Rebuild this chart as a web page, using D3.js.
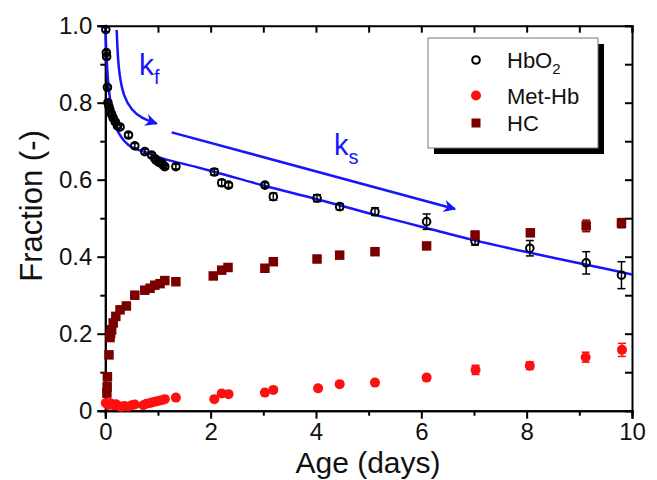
<!DOCTYPE html>
<html>
<head>
<meta charset="utf-8">
<script src="https://cdn.jsdelivr.net/npm/d3@7"></script>
<style>
  body { margin: 0; background: #fff; }
  text { font-family: "Liberation Sans", Arial, sans-serif; }
</style>
</head>
<body>
<script>
const width = 657;
const height = 480;

// HbO2 (open circles)
const hbo2Age = [0.01, 0.02, 0.025, 0.04, 0.05, 0.07, 0.09, 0.12, 0.15, 0.19, 0.23, 0.28, 0.44, 0.56, 0.75, 0.88, 0.94, 0.97, 1.02, 1.07, 1.1, 1.13, 1.34, 2.07, 2.21, 2.34, 3.03, 3.19, 4.02, 4.45, 5.12, 6.1, 7.02, 8.06, 9.13, 9.8];
const hbo2Val = [0.99, 0.93, 0.92, 0.84, 0.80, 0.79, 0.78, 0.77, 0.76, 0.75, 0.74, 0.737, 0.716, 0.688, 0.673, 0.664, 0.655, 0.65, 0.645, 0.643, 0.638, 0.634, 0.634, 0.62, 0.592, 0.586, 0.586, 0.556, 0.552, 0.53, 0.517, 0.491, 0.44, 0.422, 0.384, 0.352];
const hbo2Err = [0.005, 0.005, 0.005, 0.005, 0.005, 0.005, 0.005, 0.005, 0.005, 0.005, 0.005, 0.005, 0.006, 0.006, 0.006, 0.006, 0.006, 0.006, 0.006, 0.006, 0.006, 0.006, 0.006, 0.008, 0.008, 0.006, 0.006, 0.009, 0.009, 0.008, 0.01, 0.02, 0.01, 0.02, 0.029, 0.035];

// Met-Hb (red filled circles)
const metAge = [0.01, 0.03, 0.06, 0.09, 0.12, 0.16, 0.2, 0.25, 0.3, 0.36, 0.44, 0.5, 0.56, 0.72, 0.78, 0.85, 0.9, 0.96, 1.02, 1.07, 1.13, 1.34, 2.07, 2.21, 2.34, 3.03, 3.19, 4.04, 4.45, 5.12, 6.1, 7.03, 8.06, 9.12, 9.81];
const metVal = [0.02, 0.018, 0.015, 0.02, 0.016, 0.014, 0.017, 0.012, 0.01, 0.012, 0.011, 0.014, 0.016, 0.014, 0.018, 0.02, 0.022, 0.024, 0.026, 0.027, 0.03, 0.034, 0.03, 0.045, 0.043, 0.047, 0.054, 0.058, 0.069, 0.073, 0.086, 0.106, 0.117, 0.139, 0.158];
const metErr = [0.004, 0.004, 0.004, 0.004, 0.004, 0.004, 0.004, 0.004, 0.004, 0.004, 0.004, 0.004, 0.004, 0.004, 0.004, 0.004, 0.004, 0.004, 0.004, 0.004, 0.004, 0.004, 0.004, 0.004, 0.004, 0.005, 0.005, 0.005, 0.005, 0.006, 0.007, 0.012, 0.01, 0.013, 0.017];

// HC (dark red squares)
const hcAge = [0.03, 0.035, 0.04, 0.07, 0.09, 0.1, 0.12, 0.15, 0.2, 0.28, 0.4, 0.56, 0.75, 0.85, 0.94, 1.04, 1.13, 1.34, 2.05, 2.21, 2.33, 3.03, 3.19, 4.02, 4.45, 5.12, 6.1, 7.02, 8.07, 9.13, 9.8];
const hcVal = [0.046, 0.062, 0.088, 0.145, 0.19, 0.2, 0.21, 0.228, 0.245, 0.262, 0.272, 0.30, 0.313, 0.318, 0.326, 0.33, 0.338, 0.335, 0.35, 0.365, 0.372, 0.37, 0.387, 0.394, 0.404, 0.413, 0.428, 0.456, 0.462, 0.48, 0.487];
const hcErr = [0.01, 0.01, 0.01, 0.005, 0.005, 0.005, 0.005, 0.005, 0.005, 0.005, 0.005, 0.005, 0.005, 0.005, 0.005, 0.005, 0.005, 0.005, 0.005, 0.005, 0.005, 0.005, 0.005, 0.006, 0.006, 0.006, 0.007, 0.01, 0.008, 0.015, 0.012];

// fitted curve
const fitAge = [0, 0.02, 0.05, 0.1, 0.18, 0.28, 0.44, 0.75, 1.07, 1.7, 2.08, 3, 4, 5, 6, 7, 8, 9, 10];
const fitVal = [1.0, 0.93, 0.86, 0.80, 0.745, 0.716, 0.69, 0.672, 0.656, 0.634, 0.62, 0.585, 0.55, 0.513, 0.478, 0.443, 0.412, 0.383, 0.354];

// annotation arrows (data units)
const kfAge = [0.216, 0.247, 0.342, 0.50, 0.69, 0.975];
const kfVal = [0.989, 0.885, 0.816, 0.781, 0.759, 0.746];
const ksAge = [1.26, 6.64];
const ksVal = [0.723, 0.524];

const xTicks = [0, 2, 4, 6, 8, 10];
const yTicks = [0, 0.2, 0.4, 0.6, 0.8, 1.0];

const x = d3.scaleLinear().domain([0, 10]).range([105.3, 632]);
const y = d3.scaleLinear().domain([0, 1]).range([410.7, 25.7]);

const svg = d3.select("body")
	.append("svg")
	.attr("width", width)
	.attr("height", height);

svg.append("defs").append("marker")
	.attr("id", "head")
	.attr("viewBox", "0 0 10 10")
	.attr("refX", 9)
	.attr("refY", 5)
	.attr("markerWidth", 7)
	.attr("markerHeight", 5)
	.attr("markerUnits", "strokeWidth")
	.attr("orient", "auto")
	.append("path")
	.attr("d", "M0,0 L10,5 L0,10 L3,5 Z")
	.attr("fill", "#1515ff");

// axes
const minorX = d3.range(1, 10, 2);
const minorY = d3.range(0.1, 1, 0.2);

function axisStyle(g) {
	g.select(".domain").attr("stroke", "#000").attr("stroke-width", 2);
	g.selectAll(".tick line").attr("stroke", "#000").attr("stroke-width", 2);
	g.selectAll("text").attr("font-size", 24).attr("fill", "#111");
}
function noText(g) {
	g.selectAll("text").remove();
}

svg.append("g")
	.attr("transform", `translate(0,${y(0)})`)
	.call(d3.axisBottom(x).tickValues(xTicks).tickFormat(d3.format("d")).tickSize(8).tickPadding(4))
	.call(axisStyle);
svg.append("g")
	.attr("transform", `translate(0,${y(0)})`)
	.call(d3.axisBottom(x).tickValues(minorX).tickSize(5))
	.call(axisStyle).call(noText);

svg.append("g")
	.attr("transform", `translate(${x(0)},0)`)
	.call(d3.axisLeft(y).tickValues(yTicks).tickFormat(d => d === 0 ? "0" : d3.format(".1f")(d)).tickSize(8).tickPadding(5))
	.call(axisStyle);
svg.append("g")
	.attr("transform", `translate(${x(0)},0)`)
	.call(d3.axisLeft(y).tickValues(minorY).tickSize(5))
	.call(axisStyle).call(noText);

svg.append("g")
	.attr("transform", `translate(0,${y(1)})`)
	.call(d3.axisTop(x).tickValues(d3.range(0, 11, 1)).tickSize(-7))
	.call(axisStyle).call(noText);
svg.append("g")
	.attr("transform", `translate(${x(10)},0)`)
	.call(d3.axisRight(y).tickValues(d3.range(0, 1.01, 0.1)).tickSize(-7))
	.call(axisStyle).call(noText);

// axis titles
svg.append("text")
	.attr("x", 368)
	.attr("y", 473)
	.attr("text-anchor", "middle")
	.attr("font-size", 30)
	.attr("fill", "#111")
	.text("Age (days)");

svg.append("text")
	.attr("transform", "translate(42,206) rotate(-90)")
	.attr("text-anchor", "middle")
	.attr("font-size", 31)
	.attr("fill", "#111")
	.text("Fraction (-)");

// fit curve
const line = d3.line()
	.x(i => x(fitAge[i]))
	.y(i => y(fitVal[i]))
	.curve(d3.curveMonotoneX);
svg.append("path")
	.attr("d", line(d3.range(fitAge.length)))
	.attr("fill", "none")
	.attr("stroke", "#1515ff")
	.attr("stroke-width", 2.5);

// error bars
function errorBars(ages, vals, errs, color) {
	const g = svg.append("g").attr("stroke", color).attr("stroke-width", 1.5);
	ages.forEach((a, i) => {
		const cx = x(a), y1 = y(vals[i] + errs[i]), y2 = y(vals[i] - errs[i]);
		g.append("line").attr("x1", cx).attr("x2", cx).attr("y1", y1).attr("y2", y2);
		g.append("line").attr("x1", cx - 4).attr("x2", cx + 4).attr("y1", y1).attr("y2", y1);
		g.append("line").attr("x1", cx - 4).attr("x2", cx + 4).attr("y1", y2).attr("y2", y2);
	});
}

errorBars(hbo2Age, hbo2Val, hbo2Err, "#000");
svg.append("g").selectAll("circle")
	.data(d3.range(hbo2Age.length))
	.enter().append("circle")
	.attr("cx", i => x(hbo2Age[i]))
	.attr("cy", i => y(hbo2Val[i]))
	.attr("r", 3.8)
	.attr("fill", "none")
	.attr("stroke", "#000")
	.attr("stroke-width", 2);

errorBars(metAge, metVal, metErr, "#ff1010");
svg.append("g").selectAll("circle")
	.data(d3.range(metAge.length))
	.enter().append("circle")
	.attr("cx", i => x(metAge[i]))
	.attr("cy", i => y(metVal[i]))
	.attr("r", 5)
	.attr("fill", "#ff1010");

errorBars(hcAge, hcVal, hcErr, "#7a0000");
svg.append("g").selectAll("rect")
	.data(d3.range(hcAge.length))
	.enter().append("rect")
	.attr("x", i => x(hcAge[i]) - 4.75)
	.attr("y", i => y(hcVal[i]) - 4.75)
	.attr("width", 9.5)
	.attr("height", 9.5)
	.attr("fill", "#7a0000");

// annotation arrows
const arrowLine = d3.line().curve(d3.curveBasis);
svg.append("path")
	.attr("d", arrowLine(kfAge.map((a, i) => [x(a), y(kfVal[i])])))
	.attr("fill", "none")
	.attr("stroke", "#1515ff")
	.attr("stroke-width", 2.5)
	.attr("marker-end", "url(#head)");
svg.append("path")
	.attr("d", d3.line()(ksAge.map((a, i) => [x(a), y(ksVal[i])])))
	.attr("fill", "none")
	.attr("stroke", "#1515ff")
	.attr("stroke-width", 2.5)
	.attr("marker-end", "url(#head)");

const kf = svg.append("text").attr("x", 139).attr("y", 75).attr("font-size", 30).attr("fill", "#1515ff");
kf.append("tspan").text("k");
kf.append("tspan").attr("font-size", 20).attr("dy", 9).text("f");
const ks = svg.append("text").attr("x", 334).attr("y", 155).attr("font-size", 29).attr("fill", "#1515ff");
ks.append("tspan").text("k");
ks.append("tspan").attr("font-size", 20).attr("dy", 9).text("s");

// legend
const lg = svg.append("g");
lg.append("rect").attr("x", 434).attr("y", 44).attr("width", 170).attr("height", 110).attr("fill", "#000");
lg.append("rect").attr("x", 428).attr("y", 38).attr("width", 170).attr("height", 110)
	.attr("fill", "#fff").attr("stroke", "#777").attr("stroke-width", 1);

lg.append("circle").attr("cx", 476).attr("cy", 60).attr("r", 3.8)
	.attr("fill", "none").attr("stroke", "#000").attr("stroke-width", 2);
lg.append("circle").attr("cx", 476).attr("cy", 95.5).attr("r", 5).attr("fill", "#ff1010");
lg.append("rect").attr("x", 471.5).attr("y", 118.5).attr("width", 9).attr("height", 9).attr("fill", "#7a0000");

const t1 = lg.append("text").attr("x", 507).attr("y", 68).attr("font-size", 22).attr("fill", "#111");
t1.append("tspan").text("HbO");
t1.append("tspan").attr("font-size", 15).attr("dy", 6).text("2");
lg.append("text").attr("x", 507).attr("y", 103.5).attr("font-size", 22).attr("fill", "#111").text("Met-Hb");
lg.append("text").attr("x", 507).attr("y", 131).attr("font-size", 22).attr("fill", "#111").text("HC");
</script>
</body>
</html>
